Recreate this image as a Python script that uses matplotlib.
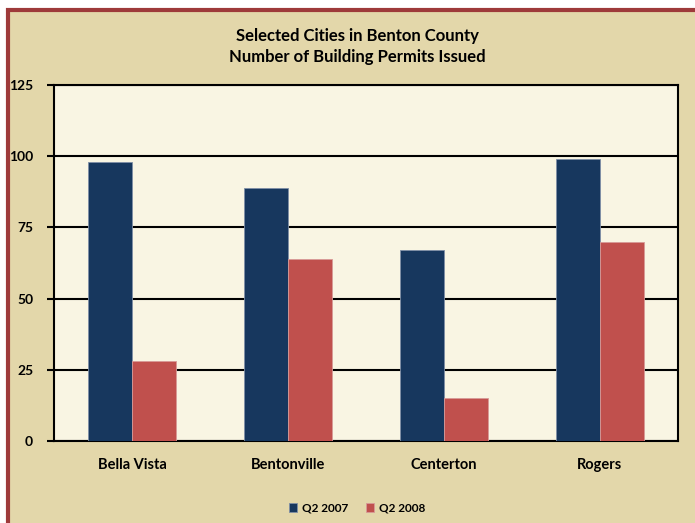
import matplotlib
matplotlib.use('Agg')
import matplotlib.pyplot as plt
from matplotlib.patches import Rectangle
import numpy as np

plt.rcParams['font.family'] = ['Lato', 'DejaVu Sans']
plt.rcParams['font.weight'] = 'bold'

cities = ['Bella Vista', 'Bentonville', 'Centerton', 'Rogers']
q2_2007 = [98, 89, 67, 99]
q2_2008 = [28, 64, 15, 70]
yticks = [0, 25, 50, 75, 100, 125]

blue = '#17375E'
red = '#C0504D'
tan = '#E3D7AA'
cream = '#F9F5E3'

W, H = 695, 523
fig = plt.figure(figsize=(W / 100, H / 100), dpi=100, facecolor='white')

# outer frame (cropped on right and bottom)
frame = Rectangle((8 / W, -0.1), 1.2, (H - 10) / H + 0.1, transform=fig.transFigure,
                  facecolor=tan, edgecolor='#9E3A3A', linewidth=3, zorder=-10)
fig.patches.append(frame)

ax = fig.add_axes([54 / W, (H - 441) / H, (678 - 54) / W, (441 - 85) / H])
ax.set_zorder(5)
ax.set_facecolor(cream)

x = np.arange(len(cities))
w = 0.283
ax.bar(x - w / 2, q2_2007, w, color=blue, edgecolor='#7f8fa6', linewidth=0.6, label='Q2 2007', zorder=3)
ax.bar(x + w / 2, q2_2008, w, color=red, edgecolor='#d89a98', linewidth=0.6, label='Q2 2008', zorder=3)

ax.set_ylim(0, 125)
ax.set_xlim(-0.5, len(cities) - 0.5)
ax.set_yticks(yticks)
ax.set_yticklabels([str(t) for t in yticks], fontsize=10, fontweight='bold')
ax.yaxis.grid(True, color='black', linewidth=1.5, zorder=1)
ax.set_axisbelow(True)
ax.tick_params(axis='y', direction='out', length=5, width=1.5, pad=10)
ax.tick_params(axis='x', length=0, pad=12)
ax.set_xticks(x)
ax.set_xticklabels(cities, fontsize=10.5, fontweight='bold')
for s in ax.spines.values():
    s.set_linewidth(1.5)
    s.set_color('black')

fig.text(357 / W, 1 - 36 / H, 'Selected Cities in Benton County', ha='center', va='center',
         fontsize=12, fontweight='bold')
fig.text(357 / W, 1 - 57 / H, 'Number of Building Permits Issued', ha='center', va='center',
         fontsize=12, fontweight='bold')

leg = fig.legend(loc='center', bbox_to_anchor=(357 / W, 1 - 508 / H), ncol=2, frameon=False,
                 fontsize=8.5, handlelength=0.7, handleheight=0.7, handletextpad=0.4, columnspacing=1.5)
for t in leg.get_texts():
    t.set_fontweight('bold')

fig.savefig('out.png', dpi=100, facecolor=fig.get_facecolor())
